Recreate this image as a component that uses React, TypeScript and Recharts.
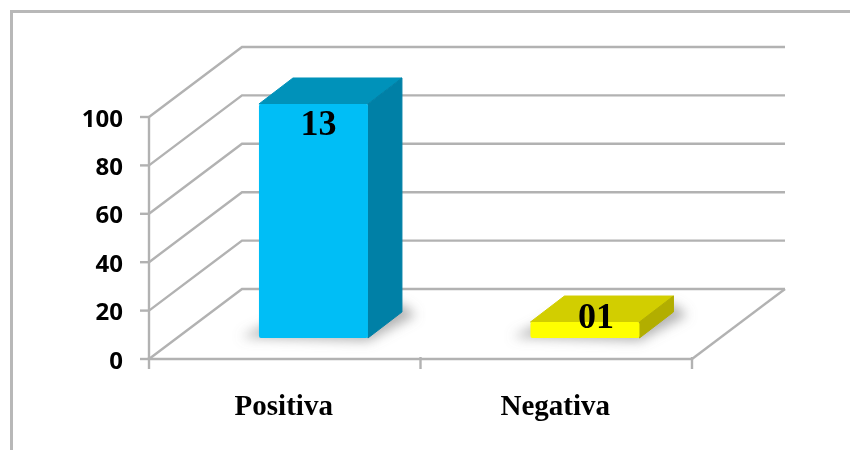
import React from "react";
import { BarChart, Bar, XAxis, YAxis, CartesianGrid, LabelList } from "recharts";

const categories = ["Positiva", "Negativa"];
const heights = [96.7, 6.6];
const labels = ["13", "01"];
const colors = [
  { front: "#00BEF6", top: "#0092BA", side: "#0080A6" },
  { front: "#FFFF00", top: "#D2CE00", side: "#B2AE00" },
];
const yTicks = [0, 20, 40, 60, 80, 100];

const WALL_DX = 93;
const WALL_DY = -70;
const BAR_SHIFT_X = 28.5;
const BAR_SHIFT_Y = -21;
const BAR_DX = 34;
const BAR_DY = -26;
const LABEL_NUDGE = [
  { dx: 5, dy: 19.5 },
  { dx: 11, dy: -6 },
];
const GRID = "#b2b2b2";
const GRID_WIDTH = 2.4;

const rows = categories.map((name, i) => ({ name, value: heights[i], label: labels[i] }));

function GridLine(props: any) {
  const { x1, x2, y1, y, height } = props;
  const bx1 = x1 + WALL_DX;
  const bx2 = x2 + WALL_DX;
  const by = y1 + WALL_DY;
  const isFloor = Math.abs(y + height - y1) < 1;
  return (
    <g>
      <polyline
        points={`${x1},${y1} ${bx1},${by} ${bx2},${by}`}
        fill="none"
        stroke={GRID}
        strokeWidth={GRID_WIDTH}
      />
      {isFloor ? (
        <line x1={x2} y1={y1} x2={bx2} y2={by} stroke={GRID} strokeWidth={GRID_WIDTH} />
      ) : null}
    </g>
  );
}

function XTick(props: any) {
  const { x, y, payload, index, visibleTicksCount } = props;
  const half = payload.offset;
  const axisY = y - 8 - 2;
  const isLast = index === (visibleTicksCount ?? categories.length) - 1;
  return (
    <g>
      <line x1={x - half} y1={axisY} x2={x - half} y2={axisY + 12} stroke={GRID} strokeWidth={GRID_WIDTH} />
      {isLast ? (
        <line x1={x + half} y1={axisY} x2={x + half} y2={axisY + 12} stroke={GRID} strokeWidth={GRID_WIDTH} />
      ) : null}
      <text
        x={x - 1}
        y={y + 47.5}
        textAnchor="middle"
        fontFamily="'Liberation Serif', serif"
        fontWeight="bold"
        fontSize={29}
        fill="#000"
      >
        {payload.value}
      </text>
    </g>
  );
}

function Box(props: any) {
  const { x, y, width, height, index } = props;
  const c = colors[index];
  const l = x + BAR_SHIFT_X;
  const r = l + width;
  const t = y + BAR_SHIFT_Y;
  const b = t + height;
  return (
    <g>
      <polygon
        points={`${l - 18},${b - 1} ${r},${b + 3} ${r + BAR_DX + 14},${b + BAR_DY + 3} ${r + BAR_DX},${b + BAR_DY - 8} ${l + BAR_DX},${b + BAR_DY}`}
        fill="#808080"
        fillOpacity={0.6}
        filter="url(#floorShadow)"
      />
      <polygon
        points={`${l},${t} ${l + BAR_DX},${t + BAR_DY} ${r + BAR_DX},${t + BAR_DY} ${r},${t}`}
        fill={c.top}
        stroke={c.top}
        strokeWidth={1}
        strokeLinejoin="round"
      />
      <polygon
        points={`${r},${t} ${r + BAR_DX},${t + BAR_DY} ${r + BAR_DX},${b + BAR_DY} ${r},${b}`}
        fill={c.side}
        stroke={c.side}
        strokeWidth={1}
        strokeLinejoin="round"
      />
      <rect x={l} y={t} width={width} height={height} rx={2} fill={c.front} />
    </g>
  );
}

function BoxLabel(props: any) {
  const { x, y, width, value, index } = props;
  const n = LABEL_NUDGE[index];
  return (
    <text
      x={x + BAR_SHIFT_X + width / 2 + n.dx}
      y={y + BAR_SHIFT_Y + n.dy}
      textAnchor="middle"
      dominantBaseline="central"
      fontFamily="'Liberation Serif', serif"
      fontWeight="bold"
      fontSize={36}
      fill="#000"
    >
      {value}
    </text>
  );
}

export default function App() {
  return (
    <div style={{ position: "absolute", left: 0, top: 0, width: 850, height: 450, background: "#fff", overflow: "hidden" }}>
      <div style={{ position: "absolute", left: 10, top: 10, width: 840, height: 440, borderLeft: "3px solid #b8b8b8", borderTop: "3px solid #b8b8b8", boxSizing: "border-box" }} />
      <div style={{ position: "absolute", left: 0, top: 0, filter: "blur(0.5px)" }}>
        <BarChart
          width={850}
          height={450}
          data={rows}
          margin={{ top: 117, right: 158, bottom: 61, left: 0 }}
          barCategoryGap="30%"
        >
          <defs>
            <filter id="floorShadow" x="-40%" y="-100%" width="180%" height="300%">
              <feGaussianBlur stdDeviation="6" />
            </filter>
          </defs>
          <CartesianGrid vertical={false} horizontal={GridLine as any} stroke={GRID} />
          <XAxis
            dataKey="name"
            interval={0}
            height={30}
            axisLine={{ stroke: GRID, strokeWidth: GRID_WIDTH }}
            tickLine={false}
            tick={XTick as any}
          />
          <YAxis
            type="number"
            domain={[0, 100]}
            ticks={yTicks}
            width={149}
            axisLine={{ stroke: GRID, strokeWidth: GRID_WIDTH }}
            tickLine={{ stroke: GRID, strokeWidth: GRID_WIDTH }}
            tickSize={9}
            tick={{ fontFamily: "'Noto Sans', sans-serif", fontWeight: 700, fontSize: 24, fill: "#000", dx: -15, dy: 1 }}
          />
          <Bar dataKey="value" shape={Box as any} isAnimationActive={false}>
            <LabelList dataKey="label" content={BoxLabel as any} />
          </Bar>
        </BarChart>
      </div>
    </div>
  );
}
